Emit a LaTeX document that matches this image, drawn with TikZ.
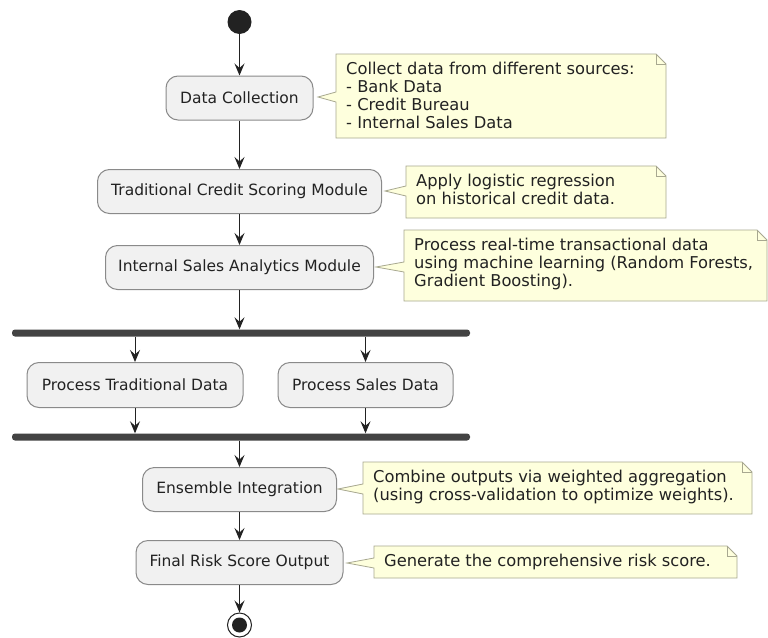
\documentclass[tikz,border=0pt]{standalone}
\usepackage{fontspec}
\setmainfont{DejaVu Sans}
\usetikzlibrary{arrows.meta}
\definecolor{boxfill}{HTML}{F1F1F1}
\definecolor{boxline}{HTML}{8A8A8A}
\definecolor{notefill}{HTML}{FEFFDD}
\definecolor{noteline}{HTML}{A8A890}
\definecolor{ink}{HTML}{222222}
\tikzset{
  actbox/.style={draw=boxline, fill=boxfill, rounded corners=12pt, line width=1pt,
    minimum height=44pt, inner sep=0pt, font=\fontsize{15.5}{18}\selectfont, text=ink},
  arr/.style={draw=ink, line width=1pt, -{Stealth[length=12pt, width=10pt, inset=4.5pt]}},
  notebg/.style={draw=noteline, fill=notefill, line width=0.8pt},
  notetext/.style={anchor=north west, align=left, inner sep=0pt,
    font=\fontsize{16.3}{18}\selectfont, text=ink},
  bar/.style={fill=ink!85, draw=none, rounded corners=3pt, minimum height=7pt, inner sep=0pt}
}
% #1 x1, #2 y1, #3 x2, #4 y2, #5 pointer y, #6 tip x, #7 node name, #8 text
\newcommand\mynote[8]{%
  \path[notebg] (#1,#2) -- (#3-10,#2) -- (#3,#2+10) -- (#3,#4) -- (#1,#4) -- (#1,#5+5) -- (#6,#5) -- (#1,#5-5) -- cycle;
  \draw[noteline, line width=0.8pt] (#3-10,#2) -- (#3-10,#2+10) -- (#3,#2+10);
  \node[notetext] (#7) at (#1+10,#2+8) {#8};
}
\begin{document}
\begin{tikzpicture}[x=1pt, y=-1pt]
\useasboundingbox (0,0) rectangle (768,637);
\fill[white] (0,0) rectangle (768,637);

% start
\node[circle, fill=ink, minimum size=24pt, inner sep=0pt] (start) at (239.5,22) {};

% activity boxes
\node[actbox, minimum width=147pt] (dc) at (239.5,98) {Data Collection};
\node[actbox, minimum width=284pt] (tcsm) at (239.5,191.5) {Traditional Credit Scoring Module};
\node[actbox, minimum width=268pt] (isam) at (239.5,267.5) {Internal Sales Analytics Module};
\node[bar, minimum width=458pt] (fork) at (241,333) {};
\node[actbox, minimum width=216pt, minimum height=45pt] (ptd) at (135,385) {Process Traditional Data};
\node[actbox, minimum width=175pt, minimum height=45pt] (psd) at (365.5,385) {Process Sales Data};
\node[bar, minimum width=458pt] (join) at (241,437) {};
\node[actbox, minimum width=194pt] (ens) at (239.5,489.5) {Ensemble Integration};
\node[actbox, minimum width=207pt] (final) at (239.5,562.5) {Final Risk Score Output};

% end
\node[circle, draw=ink, line width=1pt, fill=white, minimum size=24pt, inner sep=0pt] (end) at (239.5,625) {};
\fill[ink] (end.center) circle (7.5pt);

% connectors
\draw[arr] (start) -- (dc);
\draw[arr] (dc) -- (tcsm);
\draw[arr] (tcsm) -- (isam);
\draw[arr] (isam.south) -- (isam.south |- fork.north);
\draw[arr] (ptd.north |- fork.south) -- (ptd.north);
\draw[arr] (psd.north |- fork.south) -- (psd.north);
\draw[arr] (ptd.south) -- (ptd.south |- join.north);
\draw[arr] (psd.south) -- (psd.south |- join.north);
\draw[arr] (ens.north |- join.south) -- (ens.north);
\draw[arr] (ens) -- (final);
\draw[arr] (final) -- (end);

% notes
\mynote{336}{54}{666}{138}{97}{318}{n1}{Collect data from different sources:\\- Bank Data\\- Credit Bureau\\- Internal Sales Data}
\mynote{406}{166}{666}{218}{191}{385}{n2}{Apply logistic regression\\on historical credit data.}
\mynote{404}{230}{767}{301}{267}{376}{n3}{Process real-time transactional data\\using machine learning (Random Forests,\\Gradient Boosting).}
\mynote{363}{462}{752}{514}{489}{338}{n4}{Combine outputs via weighted aggregation\\(using cross-validation to optimize weights).}
\mynote{374}{546}{737}{578}{563}{347}{n5}{Generate the comprehensive risk score.}
\end{tikzpicture}
\end{document}
